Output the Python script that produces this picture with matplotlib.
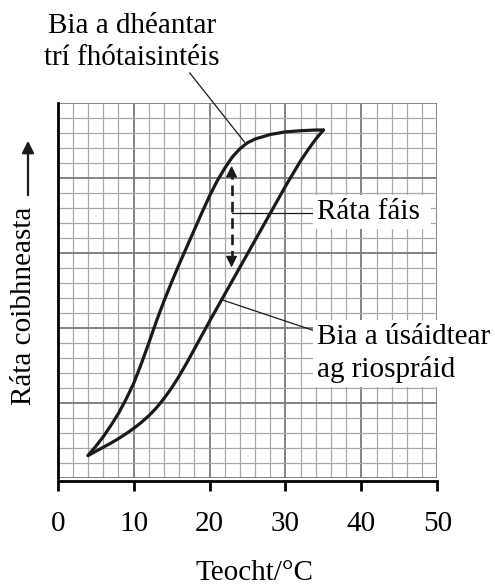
import matplotlib
matplotlib.use('Agg')
import matplotlib.pyplot as plt

plt.rcParams['font.family'] = ['Liberation Serif', 'DejaVu Serif']

# bia a dheantar (fotaisinteis)
foto_x = [4, 5, 6, 7, 8, 9, 10, 11, 12, 13, 14, 15, 16, 17, 18, 19, 20, 21, 22,
          23, 24, 25, 26, 27, 28, 30, 32, 34, 35]
foto_y = [3.0, 4.2, 5.5, 7.0, 8.6, 10.5, 12.6, 15.2, 18.0, 20.9, 23.6, 26.1, 28.5,
          30.8, 33.1, 35.4, 37.6, 39.6, 41.3, 42.8, 43.9, 44.7, 45.2, 45.5, 45.8,
          46.15, 46.3, 46.4, 46.4]

# bia a usaidtear (riospraid)
resp_x = [4, 5, 6, 7, 8, 9, 10, 11, 12, 13, 14, 15, 16, 17, 18, 19, 20, 22, 24,
          26, 28, 30, 32, 33, 34, 35]
resp_y = [3.0, 3.55, 4.1, 4.65, 5.25, 5.9, 6.6, 7.4, 8.3, 9.35, 10.6, 12.0, 13.6,
          15.35, 17.2, 19.05, 20.9, 24.5, 28.1, 31.7, 35.3, 38.9, 42.3, 43.8, 45.2, 46.4]

# rata fais arrow
fas_x = 22.9
fas_y = [27.7, 42.0]

x_ticks = [0, 10, 20, 30, 40, 50]

fs = 21
ink = '#1a1a1a'

fig = plt.figure(figsize=(4.95, 5.88), dpi=100)
ax = fig.add_axes([57.7/495, 110/588, 379.6/495, 375/588])

ax.set_xlim(0, 50)
ax.set_ylim(0, 50)
ax.set_xticks(x_ticks)
ax.set_xticks(range(0, 51, 2), minor=True)
ax.set_yticks(range(0, 51, 10))
ax.set_yticks(range(0, 51, 2), minor=True)
ax.grid(which='minor', color='#a8a8a8', lw=0.9)
ax.grid(which='major', color='#7a7a7a', lw=1.3)
ax.set_axisbelow(True)

for s in ['top', 'right']:
    ax.spines[s].set_visible(False)
ax.spines['left'].set_linewidth(2.0)
ax.spines['bottom'].set_linewidth(2.0)
ax.spines['bottom'].set_position(('outward', 2))
ax.tick_params(axis='x', which='major', direction='out', length=7.5, width=2.0,
               labelsize=fs, pad=14)
ax.tick_params(axis='x', which='minor', length=0)
ax.tick_params(axis='y', which='both', length=0, labelleft=False)

ax.plot(foto_x, foto_y, color=ink, lw=2.3, solid_capstyle='round',
        solid_joinstyle='round', zorder=3)
ax.plot(resp_x, resp_y, color=ink, lw=2.3, solid_capstyle='round',
        solid_joinstyle='round', zorder=3)

# dashed double arrow
ax.plot([fas_x, fas_x], [fas_y[0] + 1.2, fas_y[1] - 1.2], color=ink,
        lw=1.9, ls=(0, (4, 2.2)), zorder=3)
ax.annotate('', xy=(fas_x, fas_y[1]), xytext=(fas_x, fas_y[1] - 1.5),
            arrowprops=dict(arrowstyle='-|>', color=ink, lw=1, mutation_scale=17))
ax.annotate('', xy=(fas_x, fas_y[0]), xytext=(fas_x, fas_y[0] + 1.5),
            arrowprops=dict(arrowstyle='-|>', color=ink, lw=1, mutation_scale=17))

# pointers
ax.plot([fas_x, 33.6], [35.3, 35.3], color=ink, lw=0.9, zorder=3)
ax.plot([21.8, 33.6], [23.7, 19.7], color=ink, lw=0.9, zorder=3)
ax.plot([17.4, 24.6], [54.0, 44.8], color=ink, lw=0.9, zorder=3, clip_on=False)

# multi-line texts: va='baseline' puts the last line on the given y
box = dict(facecolor='white', edgecolor='none', pad=3)
ax.text(34.1, (478 - 219) / 7.5, 'Ráta fáis ', fontsize=fs, ha='left', va='baseline',
        bbox=box, zorder=4)
ax.text(34.1, (478 - 377) / 7.5, 'Bia a úsáidtear\nag riospráid', fontsize=fs,
        ha='left', va='baseline', linespacing=1.3, bbox=box, zorder=4)

fig.text(132/495, 1 - 65/588, 'Bia a dhéantar\ntrí fhótaisintéis', fontsize=fs,
         ha='center', va='baseline', multialignment='center', linespacing=1.3)
fig.text(255/495, 1 - 580/588, 'Teocht/°C', fontsize=fs, ha='center', va='baseline')
fig.text(24/495, 1 - 306/588, 'Ráta coibhneasta', fontsize=fs, rotation=90,
         ha='center', va='center')
fig.add_artist(matplotlib.patches.FancyArrowPatch(
    (28/495, 1 - 198/588), (28/495, 1 - 138/588), transform=fig.transFigure,
    arrowstyle='-|>', mutation_scale=18, color=ink, lw=1.6))

fig.savefig('out.png', dpi=100)
